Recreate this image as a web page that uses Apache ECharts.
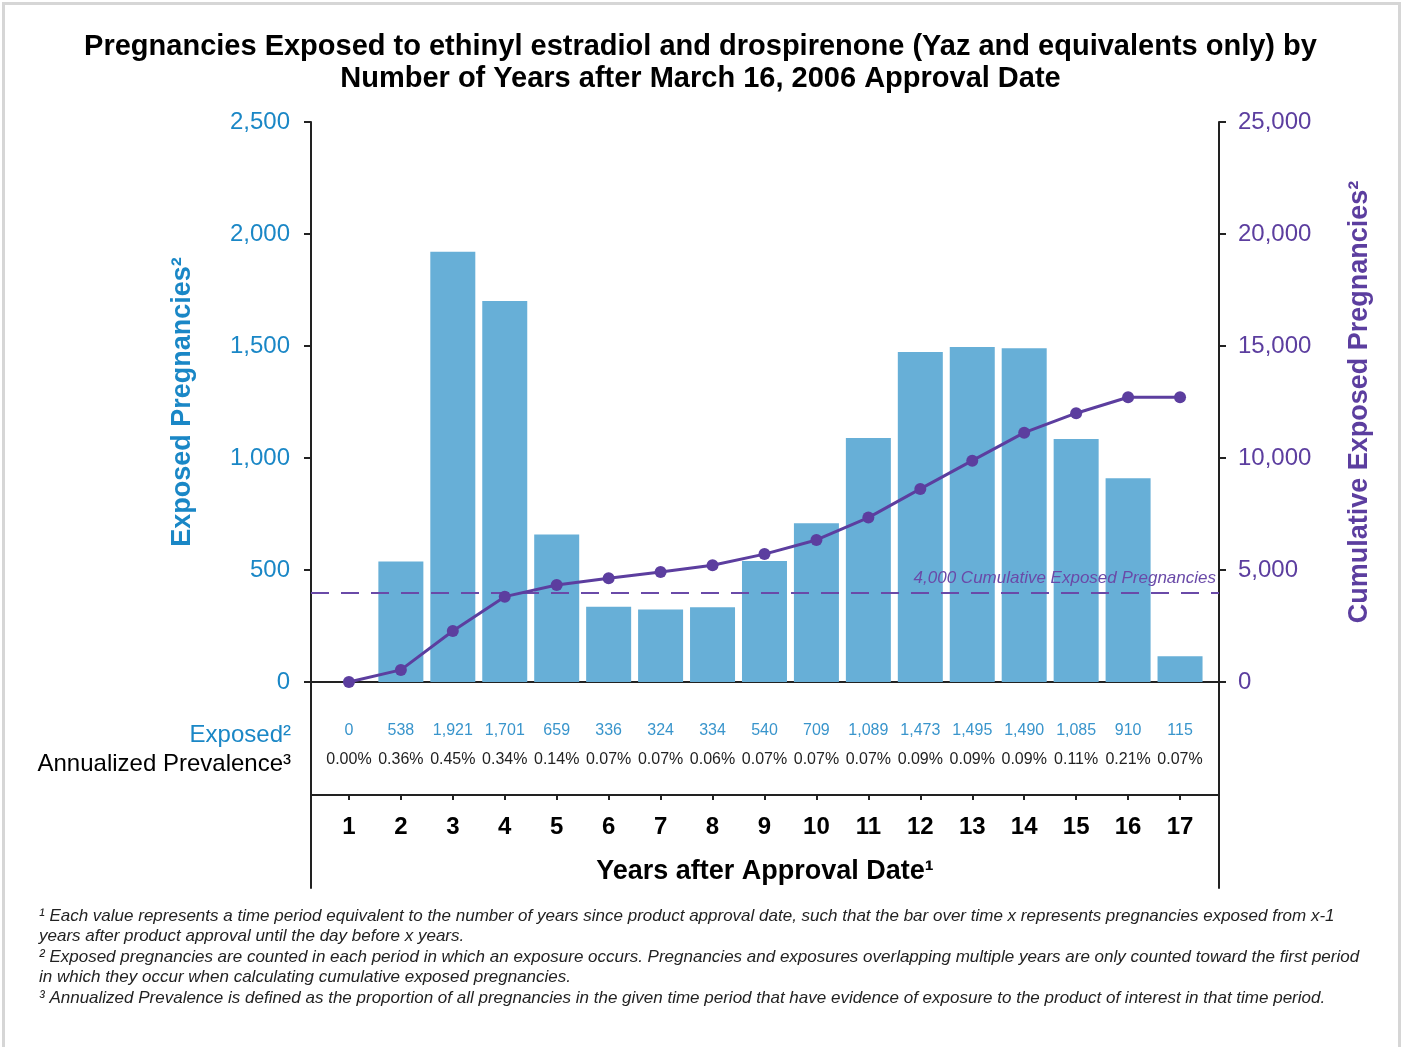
<!DOCTYPE html>
<html>
<head>
<meta charset="utf-8">
<title>Yaz exposed pregnancies</title>
<script src="https://cdn.jsdelivr.net/npm/echarts@6/dist/echarts.min.js"></script>
<style>
  html, body { margin: 0; padding: 0; background: #fff; }
  #chart { position: absolute; left: 0; top: 0; width: 1401px; height: 1047px; }
  #frame { position: absolute; left: 2px; top: 2px; width: 1393px; height: 1060px;
           border: 3px solid #d6d6d6; pointer-events: none; }
</style>
</head>
<body>
<div id="chart"></div>
<div id="frame"></div>
<script>
// years after approval (x positions / tick labels)
const years = [1, 2, 3, 4, 5, 6, 7, 8, 9, 10, 11, 12, 13, 14, 15, 16, 17];
// exposed pregnancies per period (bars, left axis)
const exposed = [0, 538, 1921, 1701, 659, 336, 324, 334, 540, 709, 1089, 1473, 1495, 1490, 1085, 910, 115];
// cumulative exposed pregnancies (line, right axis)
const cumulative = [0, 540, 2280, 3810, 4330, 4630, 4910, 5210, 5710, 6340, 7340, 8620, 9880, 11130, 12000, 12710, 12710];
// annualized prevalence row
const prevalence = ['0.00%','0.36%','0.45%','0.34%','0.14%','0.07%','0.07%','0.06%','0.07%','0.07%','0.07%','0.09%','0.09%','0.09%','0.11%','0.21%','0.07%'];
const threshold = 4000;

const fmt = v => Number(v).toLocaleString('en-US');
const FONT = '"Liberation Sans", Arial, sans-serif';
const BLUE = '#1a87c6';
const PURPLE = '#5c3e9f';
const AXIS = '#222';

const ec = echarts.init(document.getElementById('chart'), null, { renderer: 'canvas' });

// x range pads the first/last year a little inside the frame
const xMin = 0.27, xMax = 17.75;

function rowAxis(formatter, margin, color) {
  return {
    type: 'value', gridIndex: 0, position: 'bottom', min: xMin, max: xMax,
    axisLine: { show: false }, axisTick: { show: false }, splitLine: { show: false },
    axisLabel: { customValues: years, formatter: formatter, margin: margin,
                 fontSize: 16, color: color, fontFamily: FONT }
  };
}

const option = {
  backgroundColor: '#fff',
  textStyle: { fontFamily: FONT },
  animation: false,
  title: [
    {
      text: 'Pregnancies Exposed to ethinyl estradiol and drospirenone (Yaz and equivalents only) by',
      left: 'center', top: 27,
      textStyle: { fontSize: 29, fontWeight: 'bold', color: '#000', fontFamily: FONT }
    },
    {
      text: 'Number of Years after March 16, 2006 Approval Date',
      left: 'center', top: 59,
      textStyle: { fontSize: 29, fontWeight: 'bold', color: '#000', fontFamily: FONT }
    },
    {
      text: 'Exposed²', right: 1105, top: 718,
      textStyle: { fontSize: 24, fontWeight: 'normal', color: BLUE, fontFamily: FONT }
    },
    {
      text: 'Annualized Prevalence³', right: 1105, top: 747,
      textStyle: { fontSize: 24, fontWeight: 'normal', color: '#000', fontFamily: FONT }
    },
    {
      text: '¹ Each value represents a time period equivalent to the number of years since product approval date, such that the bar over time x represents pregnancies exposed from x-1\n' +
            'years after product approval until the day before x years.\n' +
            '² Exposed pregnancies are counted in each period in which an exposure occurs. Pregnancies and exposures overlapping multiple years are only counted toward the first period\n' +
            'in which they occur when calculating cumulative exposed pregnancies.\n' +
            '³ Annualized Prevalence is defined as the proportion of all pregnancies in the given time period that have evidence of exposure to the product of interest in that time period.',
      left: 34, top: 901,
      textStyle: { fontSize: 17, fontStyle: 'italic', fontWeight: 'normal', color: '#222', lineHeight: 20.5, fontFamily: FONT }
    }
  ],
  grid: [
    { left: 311, right: 182, top: 122, bottom: 365, containLabel: false },
    { left: 311, right: 182, top: 682, bottom: 159, containLabel: false }
  ],
  xAxis: [
    { // zero line of the plot
      type: 'value', gridIndex: 0, position: 'bottom', min: xMin, max: xMax,
      axisLine: { show: true, onZero: false, lineStyle: { color: AXIS, width: 2 } },
      axisTick: { show: false }, axisLabel: { show: false }, splitLine: { show: false }
    },
    rowAxis(v => fmt(exposed[years.indexOf(v)]), 41, '#3995cc'),
    rowAxis(v => prevalence[years.indexOf(v)], 70, '#222'),
    { // years axis
      type: 'value', gridIndex: 0, position: 'bottom', offset: 113, min: xMin, max: xMax,
      axisLine: { show: true, onZero: false, lineStyle: { color: AXIS, width: 2 } },
      axisTick: { show: true, customValues: years, length: 5, lineStyle: { color: AXIS, width: 2 } },
      splitLine: { show: false },
      axisLabel: { customValues: years, margin: 20, fontSize: 24, fontWeight: 'bold', color: '#000', fontFamily: FONT },
      name: 'Years after Approval Date¹', nameLocation: 'middle', nameGap: 63,
      nameTextStyle: { fontSize: 27, fontWeight: 'bold', color: '#000', fontFamily: FONT }
    },
    { // hidden axis of the lower frame grid
      type: 'value', gridIndex: 1, show: false
    }
  ],
  yAxis: [
    {
      type: 'value', gridIndex: 0, position: 'left', min: 0, max: 2500, interval: 500,
      axisLine: { show: true, lineStyle: { color: AXIS, width: 2 } },
      axisTick: { show: true, inside: false, length: 7, lineStyle: { color: AXIS, width: 2 } },
      splitLine: { show: false },
      axisLabel: { formatter: fmt, fontSize: 24, color: BLUE, margin: 21, fontFamily: FONT },
      name: 'Exposed Pregnancies²', nameLocation: 'middle', nameGap: 115,
      nameTextStyle: { fontSize: 27, fontWeight: 'bold', color: BLUE, fontFamily: FONT }
    },
    {
      type: 'value', gridIndex: 0, position: 'right', min: 0, max: 25000, interval: 5000,
      axisLine: { show: true, lineStyle: { color: AXIS, width: 2 } },
      axisTick: { show: true, inside: false, length: 7, lineStyle: { color: AXIS, width: 2 } },
      splitLine: { show: false },
      axisLabel: { formatter: fmt, fontSize: 24, color: PURPLE, margin: 19, fontFamily: FONT },
      name: 'Cumulative Exposed Pregnancies²', nameLocation: 'middle', nameGap: 127,
      nameTextStyle: { fontSize: 27, fontWeight: 'bold', color: PURPLE, fontFamily: FONT }
    },
    { // lower frame, left side
      type: 'value', gridIndex: 1, position: 'left',
      axisLine: { show: true, lineStyle: { color: AXIS, width: 2 } },
      axisTick: { show: false }, axisLabel: { show: false }, splitLine: { show: false }
    },
    { // lower frame, right side
      type: 'value', gridIndex: 1, position: 'right',
      axisLine: { show: true, lineStyle: { color: AXIS, width: 2 } },
      axisTick: { show: false }, axisLabel: { show: false }, splitLine: { show: false }
    }
  ],
  series: [
    {
      name: 'Exposed', type: 'bar', xAxisIndex: 0, yAxisIndex: 0,
      data: years.map((y, i) => [y, exposed[i]]), barWidth: 45,
      itemStyle: { color: '#67afd7' }
    },
    {
      name: 'Cumulative', type: 'line', xAxisIndex: 0, yAxisIndex: 1,
      data: years.map((y, i) => [y, cumulative[i]]), symbol: 'circle', symbolSize: 12,
      lineStyle: { color: PURPLE, width: 3 },
      itemStyle: { color: PURPLE },
      z: 5,
      markLine: {
        silent: true, symbol: 'none',
        lineStyle: { color: '#6a4aa8', width: 2, type: [18, 12] },
        label: {
          position: 'insideEndTop', formatter: '4,000 Cumulative Exposed Pregnancies',
          fontSize: 17, fontStyle: 'italic', color: '#6a4aa8', distance: [3, 6], fontFamily: FONT
        },
        data: [{ yAxis: threshold }]
      }
    }
  ]
};

ec.setOption(option);
</script>
</body>
</html>
